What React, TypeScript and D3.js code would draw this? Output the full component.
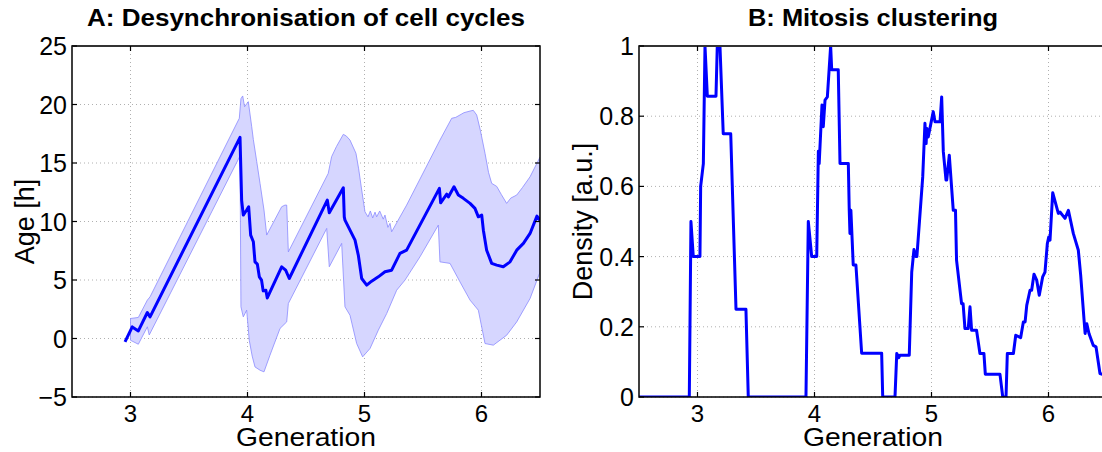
import React, { useEffect, useRef } from "react";
import * as d3 from "d3";

// ---------- Data ----------
const xTicks = [3, 4, 5, 6];
const ageTicks = [25, 20, 15, 10, 5, 0, -5];
const ageTickLabels = ["25", "20", "15", "10", "5", "0", "\u22125"];
const densTicks = [1, 0.8, 0.6, 0.4, 0.2, 0];
const densTickLabels = ["1", "0.8", "0.6", "0.4", "0.2", "0"];

// Panel A: mean age of cells [generation, age]
const meanAge: [number, number][] = [
  [2.953, -0.29], [3.015, 0.99], [3.067, 0.65], [3.144, 2.22], [3.167, 1.85],
  [3.936, 17.19], [3.95, 11.8], [3.964, 10.55], [3.993, 10.98], [4.01, 11.26],
  [4.027, 8.84], [4.05, 8.27], [4.064, 6.55], [4.084, 6.36], [4.101, 5.27],
  [4.12, 4.99], [4.134, 4.07], [4.157, 4.13], [4.169, 3.47], [4.292, 6.13],
  [4.326, 5.84], [4.357, 5.13], [4.682, 11.83], [4.699, 10.75], [4.819, 12.88],
  [4.827, 10.4], [4.833, 10.12], [4.876, 9.26], [4.919, 8.41], [4.947, 7.13],
  [4.976, 5.13], [5.019, 4.56], [5.061, 4.9], [5.118, 5.27], [5.175, 5.7],
  [5.232, 5.84], [5.303, 7.27], [5.36, 7.55], [5.64, 12.83], [5.651, 11.6],
  [5.703, 12.34], [5.717, 12.1], [5.765, 12.97], [5.802, 12.26], [5.845, 11.98],
  [5.902, 11.55], [5.944, 11.12], [5.973, 10.4], [6.002, 10.55], [6.016, 9.26],
  [6.044, 7.55], [6.087, 6.42], [6.13, 6.27], [6.186, 6.13], [6.244, 6.55],
  [6.301, 7.55], [6.358, 8.13], [6.415, 8.98], [6.474, 10.46], [6.5, 10.1],
];

// Panel A: upper edge of spread band
const upperAge: [number, number][] = [
  [3.0, 1.71], [3.067, 1.8], [3.144, 3.28], [3.167, 3.56], [3.93, 18.82],
  [3.944, 20.5], [3.959, 20.73], [3.975, 19.81], [4.007, 20.24], [4.036, 18.1],
  [4.05, 17.0], [4.079, 15.11], [4.107, 13.26], [4.141, 10.98], [4.164, 8.84],
  [4.292, 11.26], [4.32, 11.4], [4.335, 11.4], [4.349, 7.4], [4.69, 14.11],
  [4.719, 15.54], [4.76, 16.4], [4.819, 17.45], [4.845, 17.3], [4.876, 16.96],
  [4.927, 15.83], [4.95, 14.5], [4.976, 12.69], [5.004, 10.83], [5.03, 10.4],
  [5.05, 10.9], [5.07, 10.3], [5.09, 10.8], [5.104, 10.4], [5.13, 10.9],
  [5.16, 10.2], [5.175, 10.55], [5.2, 9.5], [5.218, 9.84], [5.232, 9.12],
  [5.36, 11.4], [5.645, 16.96], [5.745, 18.82], [5.78, 18.9], [5.85, 19.3],
  [5.902, 19.44], [5.93, 19.5], [5.959, 19.1], [5.99, 17.8], [6.03, 15.83],
  [6.06, 14.2], [6.087, 13.26], [6.13, 13.0], [6.17, 12.3], [6.215, 11.55],
  [6.25, 12.0], [6.301, 12.26], [6.35, 12.9], [6.415, 13.82], [6.5, 15.5],
];

// Panel A: lower edge of spread band
const lowerAge: [number, number][] = [
  [3.0, -0.15], [3.067, -0.49], [3.144, 1.0], [3.16, 0.3], [3.936, 15.6],
  [3.944, 2.71], [3.964, 1.85], [3.993, 2.42], [4.015, -0.15], [4.04, -1.5],
  [4.064, -2.43], [4.107, -2.71], [4.141, -2.85], [4.192, -1.43], [4.278, 0.86],
  [4.335, 1.42], [4.349, 2.99], [4.677, 9.41], [4.699, 6.13], [4.805, 8.13],
  [4.833, 2.71], [4.876, 1.99], [4.933, -0.43], [4.984, -1.57], [5.047, -0.86],
  [5.118, 0.71], [5.19, 2.14], [5.275, 4.13], [5.346, 4.99], [5.474, 6.98],
  [5.631, 9.69], [5.645, 6.55], [5.731, 6.42], [5.816, 4.84], [5.902, 3.28],
  [5.973, 2.42], [6.03, -0.43], [6.101, -0.57], [6.215, 0.28], [6.301, 1.42],
  [6.415, 3.42], [6.5, 5.67],
];

// Panel B: mitosis density [generation, density]
const density: [number, number][] = [
  [2.5, 0], [2.93, 0], [2.944, 0.5], [2.964, 0.4], [3.021, 0.4], [3.027, 0.6],
  [3.05, 0.665], [3.064, 1.0], [3.084, 0.857], [3.158, 0.857], [3.169, 1.0],
  [3.192, 1.0], [3.22, 0.75], [3.284, 0.75], [3.329, 0.25], [3.414, 0.25],
  [3.434, 0], [3.927, 0], [3.947, 0.5], [3.976, 0.4], [4.019, 0.4], [4.033, 0.7],
  [4.04, 0.665], [4.064, 0.832], [4.075, 0.77], [4.09, 0.846], [4.11, 0.855],
  [4.138, 1.0], [4.147, 0.932], [4.203, 0.932], [4.218, 0.665], [4.289, 0.665],
  [4.297, 0.532], [4.303, 0.466], [4.311, 0.532], [4.331, 0.376], [4.354, 0.376],
  [4.403, 0.125], [4.574, 0.125], [4.583, 0], [4.688, 0], [4.703, 0.124],
  [4.72, 0.112], [4.73, 0.119], [4.81, 0.119], [4.831, 0.356], [4.85, 0.42],
  [4.866, 0.4], [4.875, 0.4], [4.925, 0.627], [4.944, 0.78], [4.954, 0.722],
  [4.96, 0.765], [4.972, 0.741], [5.015, 0.813], [5.03, 0.784], [5.073, 0.784],
  [5.087, 0.855], [5.101, 0.699], [5.124, 0.618], [5.13, 0.618], [5.152, 0.689],
  [5.186, 0.532], [5.205, 0.532], [5.214, 0.39], [5.257, 0.266], [5.27, 0.266],
  [5.286, 0.195], [5.314, 0.195], [5.329, 0.257], [5.343, 0.19], [5.385, 0.19],
  [5.414, 0.124], [5.448, 0.124], [5.46, 0.065], [5.585, 0.065], [5.609, 0],
  [5.637, 0], [5.648, 0.124], [5.7, 0.124], [5.72, 0.176], [5.762, 0.169],
  [5.785, 0.214], [5.8, 0.214], [5.814, 0.261], [5.842, 0.304], [5.856, 0.304],
  [5.876, 0.35], [5.899, 0.333], [5.921, 0.29], [5.95, 0.342], [5.97, 0.356],
  [5.99, 0.437], [6.002, 0.456], [6.013, 0.447], [6.036, 0.582], [6.084, 0.523],
  [6.098, 0.527], [6.141, 0.509], [6.17, 0.532], [6.212, 0.466], [6.255, 0.418],
  [6.275, 0.347], [6.304, 0.219], [6.313, 0.181], [6.327, 0.209], [6.346, 0.181],
  [6.383, 0.147], [6.406, 0.143], [6.44, 0.067], [6.5, 0.06],
];

// ---------- Layout ----------
const W = 1102;
const H = 452;
const TOP = 46;
const BOTTOM = 397;
const FONT = "'Liberation Sans', Arial, Helvetica, sans-serif";

type PanelOpts = {
  left: number;
  right: number;
  yDomain: [number, number];
  yTicks: number[];
  yLabels: string[];
  title: string;
  titleLen: number;
  clipId: string;
};

type Sel = d3.Selection<SVGSVGElement, unknown, null, undefined>;

function drawPanel(svg: Sel, o: PanelOpts) {
  const x = d3.scaleLinear().domain([2.5, 6.5]).range([o.left, o.right]);
  const y = d3.scaleLinear().domain(o.yDomain).range([BOTTOM, TOP]);
  const g = svg.append("g");

  g.append("clipPath").attr("id", o.clipId).append("rect")
    .attr("x", o.left).attr("y", TOP).attr("width", o.right - o.left).attr("height", BOTTOM - TOP);

  const grid = g.append("g").attr("stroke", "#b0b0b0").attr("stroke-width", 1).attr("stroke-dasharray", "1,3");
  xTicks.forEach((t) => {
    grid.append("line").attr("x1", x(t)).attr("x2", x(t)).attr("y1", TOP).attr("y2", BOTTOM);
  });
  o.yTicks.forEach((t) => {
    grid.append("line").attr("x1", o.left).attr("x2", o.right).attr("y1", y(t)).attr("y2", y(t));
  });
  return { x, y, g };
}

function finishPanel(svg: Sel, o: PanelOpts, x: d3.ScaleLinear<number, number>, y: d3.ScaleLinear<number, number>) {
  const g = svg.append("g");
  g.append("rect").attr("x", o.left).attr("y", TOP).attr("width", o.right - o.left).attr("height", BOTTOM - TOP)
    .attr("fill", "none").attr("stroke", "#000").attr("stroke-width", 1.5);
  g.append("line").attr("x1", o.left).attr("x2", o.right).attr("y1", TOP).attr("y2", TOP)
    .attr("stroke", "#333").attr("stroke-width", 2);
  const tk = g.append("g").attr("stroke", "#000").attr("stroke-width", 1.2);
  xTicks.forEach((t) => {
    tk.append("line").attr("x1", x(t)).attr("x2", x(t)).attr("y1", BOTTOM).attr("y2", BOTTOM - 5);
    tk.append("line").attr("x1", x(t)).attr("x2", x(t)).attr("y1", TOP).attr("y2", TOP + 5);
  });
  o.yTicks.forEach((t) => {
    tk.append("line").attr("x1", o.left).attr("x2", o.left + 5).attr("y1", y(t)).attr("y2", y(t));
    tk.append("line").attr("x1", o.right).attr("x2", o.right - 5).attr("y1", y(t)).attr("y2", y(t));
  });
  xTicks.forEach((t) => {
    g.append("text").attr("x", x(t)).attr("y", 422).attr("text-anchor", "middle")
      .attr("font-family", FONT).attr("font-size", 24).text(String(t));
  });
  o.yTicks.forEach((t, i) => {
    g.append("text").attr("x", o.left - 5).attr("y", y(t) + 9).attr("text-anchor", "end")
      .attr("font-family", FONT).attr("font-size", 25).text(o.yLabels[i]);
  });
  const cx = (o.left + o.right) / 2;
  g.append("text").attr("x", cx).attr("y", 446).attr("text-anchor", "middle")
    .attr("font-family", FONT).attr("font-size", 25).attr("textLength", 140)
    .attr("lengthAdjust", "spacingAndGlyphs").text("Generation");
  g.append("text").attr("x", cx).attr("y", 26).attr("text-anchor", "middle")
    .attr("font-family", FONT).attr("font-size", 23).attr("font-weight", "bold")
    .attr("textLength", o.titleLen).attr("lengthAdjust", "spacingAndGlyphs").text(o.title);
}

export default function App() {
  const ref = useRef<SVGSVGElement>(null);
  useEffect(() => {
    const svg = d3.select(ref.current as SVGSVGElement);
    svg.selectAll("*").remove();

    // ---- Panel A ----
    const oA: PanelOpts = {
      left: 72, right: 540, yDomain: [-5, 25], yTicks: ageTicks, yLabels: ageTickLabels,
      title: "A: Desynchronisation of cell cycles", titleLen: 438, clipId: "clipA",
    };
    const A = drawPanel(svg, oA);
    const line = d3.line<[number, number]>().x((d) => A.x(d[0])).y((d) => A.y(d[1]));
    const bandPts = upperAge.concat(lowerAge.slice().reverse());
    A.g.append("path").attr("d", line(bandPts) + "Z")
      .attr("fill", "#d6d6ff").attr("stroke", "#8a8aff").attr("stroke-width", 0.8)
      .attr("clip-path", "url(#clipA)");
    A.g.append("path").attr("d", line(meanAge) as string)
      .attr("fill", "none").attr("stroke", "#0000ff").attr("stroke-width", 3)
      .attr("stroke-linejoin", "round").attr("clip-path", "url(#clipA)");
    finishPanel(svg, oA, A.x, A.y);
    svg.append("text").attr("transform", `translate(34,${(TOP + BOTTOM) / 2}) rotate(-90)`)
      .attr("text-anchor", "middle").attr("font-family", FONT).attr("font-size", 27).text("Age [h]");

    // ---- Panel B ----
    const oB: PanelOpts = {
      left: 639, right: 1107, yDomain: [0, 1], yTicks: densTicks, yLabels: densTickLabels,
      title: "B: Mitosis clustering", titleLen: 250, clipId: "clipB",
    };
    const B = drawPanel(svg, oB);
    const lineB = d3.line<[number, number]>().x((d) => B.x(d[0])).y((d) => B.y(d[1]));
    B.g.append("path").attr("d", lineB(density) as string)
      .attr("fill", "none").attr("stroke", "#0000ff").attr("stroke-width", 3)
      .attr("stroke-linejoin", "round").attr("clip-path", "url(#clipB)");
    finishPanel(svg, oB, B.x, B.y);
    svg.append("text").attr("transform", `translate(592,${(TOP + BOTTOM) / 2}) rotate(-90)`)
      .attr("text-anchor", "middle").attr("font-family", FONT).attr("font-size", 27).text("Density [a.u.]");
  }, []);

  return (
    <svg
      ref={ref}
      width={W}
      height={H}
      style={{ position: "absolute", left: 0, top: 0, background: "#fff", display: "block" }}
    />
  );
}
